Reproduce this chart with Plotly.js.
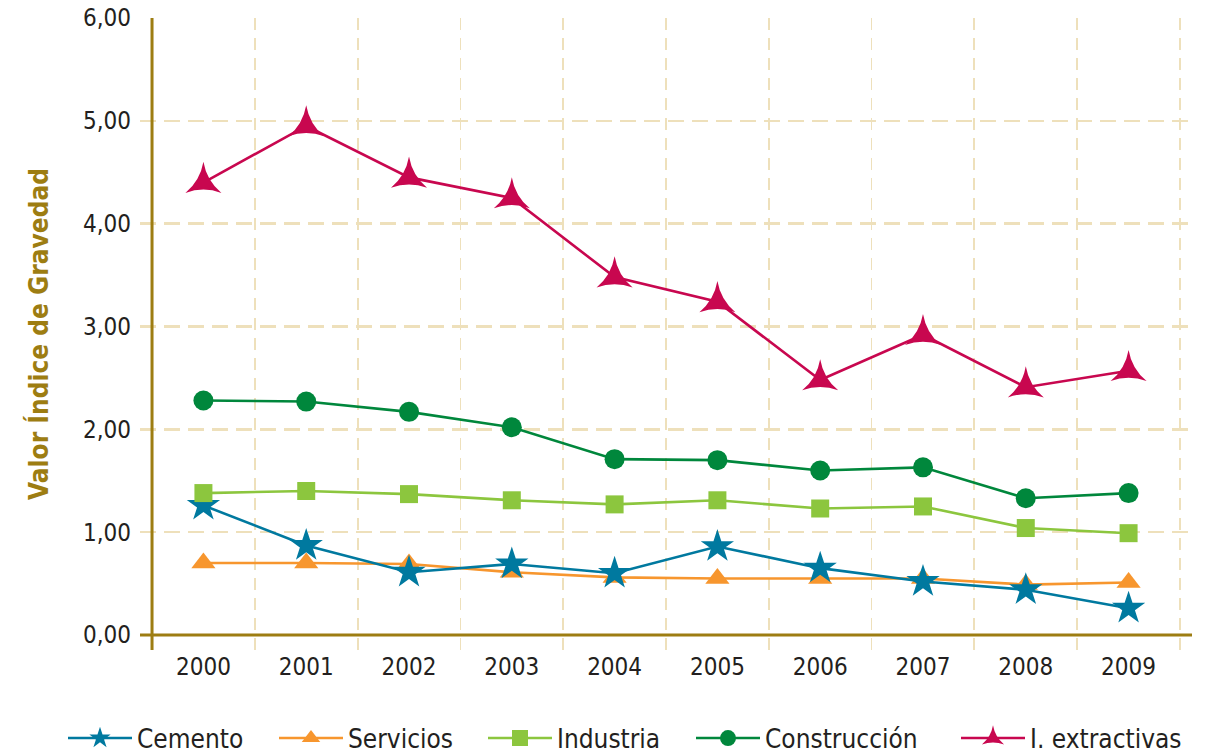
<!DOCTYPE html>
<html>
<head>
<meta charset="utf-8">
<script src="https://cdn.plot.ly/plotly-3.0.1.min.js"></script>
<style>
  html, body { margin: 0; padding: 0; background: #ffffff; }
  #chart { width: 1215px; height: 754px; }
</style>
</head>
<body>
<div id="chart"></div>
<script>
// Índice de gravedad por sector, 2000-2009
const years = [2000, 2001, 2002, 2003, 2004, 2005, 2006, 2007, 2008, 2009];
const yearLabels = ['2000', '2001', '2002', '2003', '2004', '2005', '2006', '2007', '2008', '2009'];

const cemento      = [1.26, 0.87, 0.61, 0.69, 0.60, 0.86, 0.65, 0.52, 0.44, 0.26];
const servicios    = [0.70, 0.70, 0.69, 0.61, 0.56, 0.55, 0.55, 0.55, 0.49, 0.51];
const industria    = [1.38, 1.40, 1.37, 1.31, 1.27, 1.31, 1.23, 1.25, 1.04, 0.99];
const construccion = [2.28, 2.27, 2.17, 2.02, 1.71, 1.70, 1.60, 1.63, 1.33, 1.38];
const extractivas  = [4.40, 4.95, 4.45, 4.25, 3.48, 3.24, 2.48, 2.92, 2.41, 2.57];

const yTicks = [0, 1, 2, 3, 4, 5, 6];

const FONT = '"DejaVu Sans Condensed", "DejaVu Sans", sans-serif';
const GOLD = '#9d7d12';
const GRID = '#eee0bb';
const TEXT = '#231f20';

function series(name, y, color, symbol, size, legendId) {
  return {
    type: 'scatter',
    mode: 'lines+markers',
    name: name,
    x: years,
    y: y,
    legend: legendId,
    line: { color: color, width: 2.6 },
    marker: { color: color, symbol: symbol, size: size, line: { width: 0 } },
    cliponaxis: false
  };
}

// Servicios is drawn first so the Cemento stars sit on top of the triangles
const traces = [
  series('Servicios', servicios, '#f7962e', 'triangle-up', 21, 'legend2'),
  series('Cemento', cemento, '#00799f', 'star', 25, 'legend'),
  series('Industria', industria, '#8cc63e', 'square', 18, 'legend3'),
  series('Construcción', construccion, '#00873c', 'circle', 20, 'legend4'),
  series('I. extractivas', extractivas, '#c8074f', 'star-triangle-up', 26, 'legend5')
];

const xMin = 1999.383, xMax = 2009.617;
const yMin = -0.146, yMax = 6;

// one legend box per series, laid out in a single row along the bottom
function legendBox(left) {
  return {
    orientation: 'h',
    xref: 'container',
    yref: 'container',
    x: left / 1215,
    xanchor: 'left',
    y: 0.021,
    yanchor: 'middle',
    itemwidth: 64,
    font: { family: FONT, size: 26, color: TEXT },
    bgcolor: 'rgba(0,0,0,0)'
  };
}

const layout = {
  width: 1215,
  height: 754,
  margin: { l: 140, r: 23, t: 18, b: 104 },
  paper_bgcolor: '#ffffff',
  plot_bgcolor: '#ffffff',
  showlegend: true,
  separators: ',.',
  font: { family: FONT, color: TEXT, size: 24 },
  xaxis: {
    range: [xMin, xMax],
    tickmode: 'array',
    tickvals: years,
    ticktext: yearLabels,
    showgrid: false,
    zeroline: false,
    showline: false,
    ticks: '',
    tickfont: { family: FONT, size: 24, color: TEXT },
    minor: {
      tickmode: 'linear',
      tick0: 1999.5,
      dtick: 1,
      showgrid: true,
      gridcolor: GRID,
      gridwidth: 1.8,
      griddash: '12px,8px',
      ticks: ''
    }
  },
  yaxis: {
    range: [yMin, yMax],
    tickmode: 'array',
    tickvals: yTicks,
    tickformat: '.2f',
    showgrid: true,
    gridcolor: GRID,
    gridwidth: 2.6,
    griddash: '16px,8px',
    zeroline: false,
    showline: false,
    ticks: '',
    ticklabelstandoff: 8,
    tickfont: { family: FONT, size: 24, color: TEXT },
    title: {
      text: 'Valor Índice de Gravedad',
      font: { family: FONT, size: 26, color: GOLD, weight: 'bold' },
      standoff: 26
    }
  },
  shapes: [
    // vertical axis line
    { type: 'line', layer: 'above', xref: 'x', yref: 'paper', x0: 1999.5, x1: 1999.5, y0: 0, y1: 1,
      line: { color: GOLD, width: 3 } },
    // horizontal axis line at zero
    { type: 'line', layer: 'above', xref: 'paper', yref: 'y', x0: 0, x1: 1, y0: 0, y1: 0,
      line: { color: GOLD, width: 3 } }
  ],
  legend: legendBox(63),
  legend2: legendBox(274),
  legend3: legendBox(483),
  legend4: legendBox(691),
  legend5: legendBox(956)
};

Plotly.newPlot('chart', traces, layout, { displayModeBar: false, staticPlot: true });
</script>
</body>
</html>
